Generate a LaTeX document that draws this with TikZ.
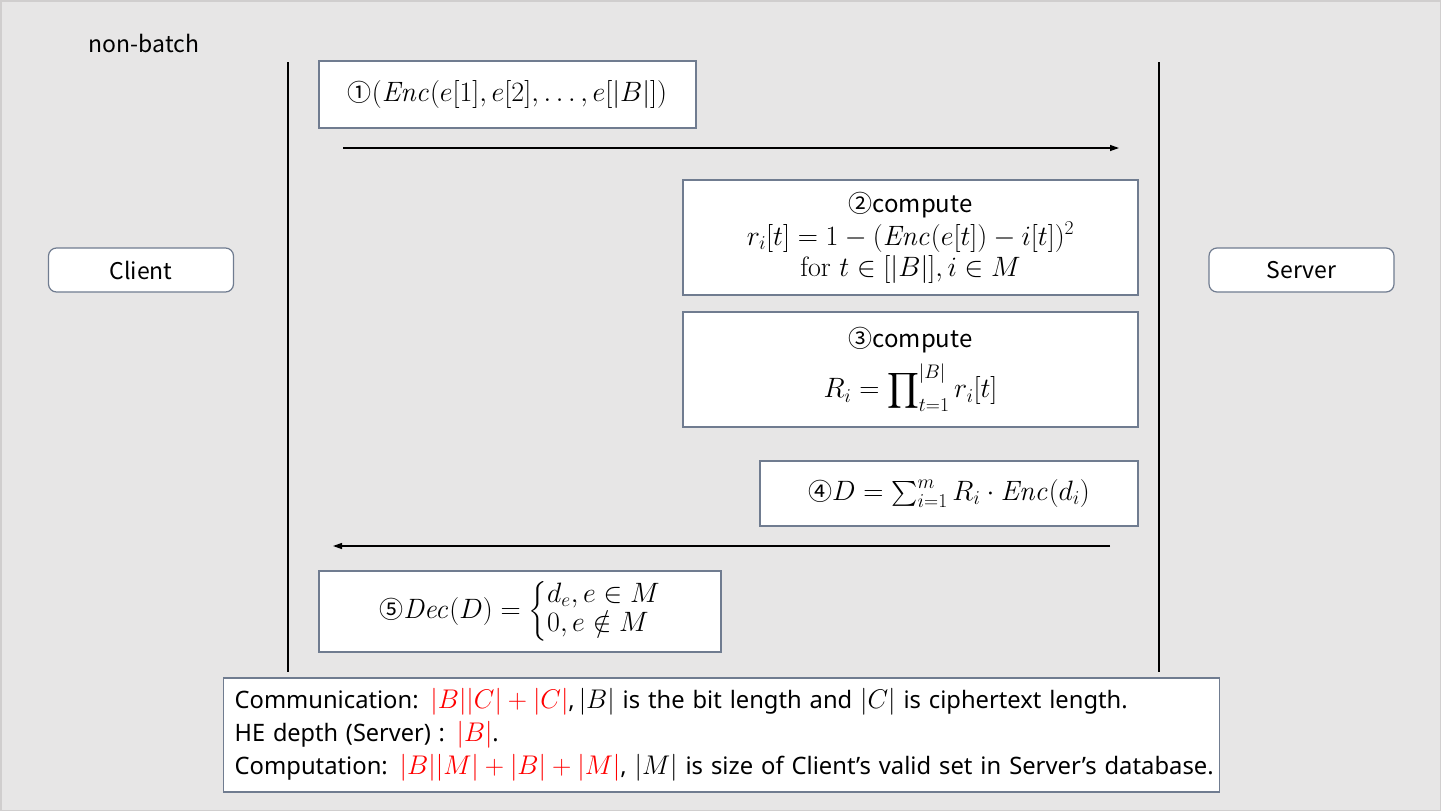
\documentclass[tikz,border=0pt]{standalone}
\usepackage{fix-cm}
\usepackage{amsmath}
\usepackage{graphicx}
\usepackage[no-math]{fontspec}
\newfontfamily\cjk{Noto Sans CJK SC}
\newfontfamily\lat{Noto Sans}
\usetikzlibrary{arrows.meta}
\definecolor{bg}{RGB}{231,230,230}
\definecolor{edge}{RGB}{208,206,206}
\definecolor{boxline}{RGB}{112,124,144}
\definecolor{hot}{RGB}{255,0,0}
\newcommand\cm[1]{{\fontsize{27}{33}\selectfont$#1$}}
\begin{document}
\begin{tikzpicture}[x=1pt,y=-1pt,
  box/.style={draw=boxline, fill=white, line width=1.4pt, inner sep=0pt,
    font=\fontsize{28}{33}\selectfont, align=center},
  actor/.style={draw=boxline, fill=white, line width=1.2pt, rounded corners=8pt,
    minimum width=185pt, minimum height=44pt, inner sep=0pt,
    font=\cjk\fontsize{23}{28}\selectfont},
  life/.style={draw=black, line width=1.2pt},
  msg/.style={draw=black, line width=1.2pt, -{Triangle[length=9pt,width=6pt]}},
  plain/.style={inner sep=0pt, font=\cjk\fontsize{23}{28}\selectfont}]
\useasboundingbox (0,0) rectangle (1441,811);
\fill[bg] (0,0) rectangle (1441,811);
\draw[edge, line width=1.5pt] (0.75,0.75) rectangle (1440.25,810.25);

\node[plain] (title) at (144,43) {non-batch};

\node[actor] (client) at (141,270) {Client};
\node[actor] (server) at (1301.5,270) {Server};

\coordinate (cl1) at (288,62);
\coordinate (cl2) at (288,672);
\coordinate (sl1) at (1159,62);
\coordinate (sl2) at (1159,672);
\draw[life] (cl1) -- (cl2);
\draw[life] (sl1) -- (sl2);

\node[box, minimum width=377pt, minimum height=67pt] (b1) at (507.5,94.5)
  {{\cjk\fontsize{24}{30}\selectfont ①}$(\mathit{Enc}(e[1],e[2],\ldots,e[|B|])$};

\coordinate (m1s) at (343,148);
\coordinate (m1e) at (1119,148);
\draw[msg] (m1s) -- (m1e);

\node[box, minimum width=455pt, minimum height=115pt] (b2) at (910.5,237.5)
  {{\cjk\fontsize{24}{30}\selectfont ②compute}\\
   $r_i[t]=1-(\mathit{Enc}(e[t])-i[t])^2$\\[-2pt]
   $\mathrm{for}\ t\in[|B|],i\in M$};

\node[box, minimum width=455pt, minimum height=115pt] (b3) at (910.5,369.5)
  {{\cjk\fontsize{24}{30}\selectfont ③compute}\\[10pt]
   $R_i=\displaystyle\prod\nolimits_{t=1}^{|B|}r_i[t]$};

\node[box, minimum width=378pt, minimum height=65pt] (b4) at (949,493.5)
  {{\cjk\fontsize{24}{30}\selectfont ④}$D=\sum\nolimits_{i=1}^{m}R_i\cdot\mathit{Enc}(d_i)$};

\coordinate (m2s) at (1110,546);
\coordinate (m2e) at (333,546);
\draw[msg] (m2s) -- (m2e);

\node[box, minimum width=402pt, minimum height=81pt] (b5) at (520,611.5)
  {{\cjk\fontsize{24}{30}\selectfont ⑤}$\mathit{Dec}(D)=\def\arraystretch{0.84}\left\{\begin{array}{@{}l@{}}d_e,e\in M\\0,e\notin M\end{array}\right.$};

\node[box, anchor=west, text width=974pt, minimum height=114pt, inner xsep=11pt,
  align=left, font=\lat\fontsize{24}{33}\selectfont] (cost) at (223,735)
  {\resizebox{893pt}{\height}{Communication: \textcolor{hot}{\cm{|B||C|+|C|}},\,\cm{|B|} is the bit length and \cm{|C|} is ciphertext length.}\\
   \resizebox{264pt}{\height}{HE depth (Server) : \textcolor{hot}{\cm{|B|}}.}\\
   \resizebox{979pt}{\height}{Computation: \textcolor{hot}{\cm{|B||M|+|B|+|M|}}, \cm{|M|} is size of Client’s valid set in Server’s database.}};
\end{tikzpicture}
\end{document}
